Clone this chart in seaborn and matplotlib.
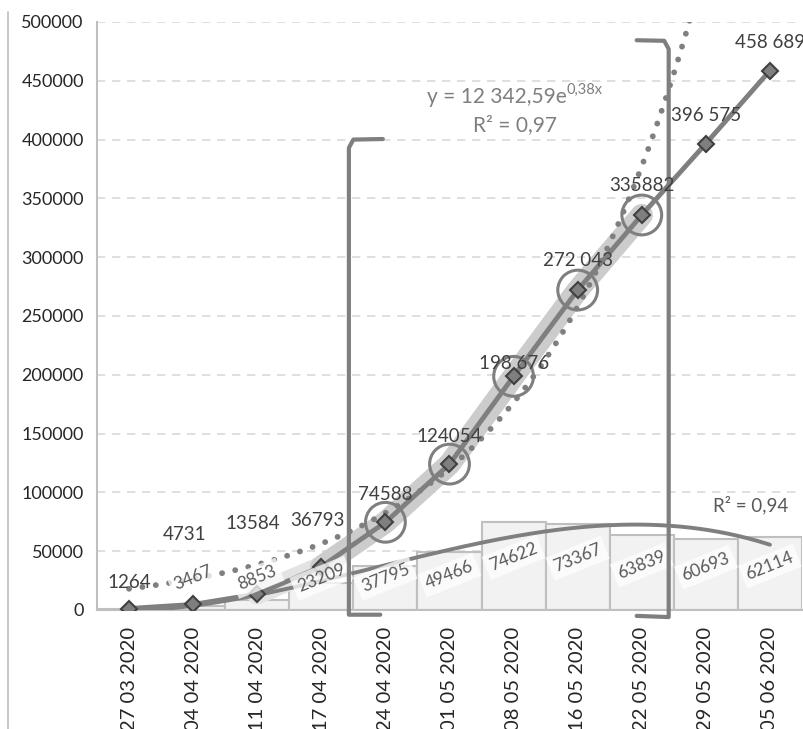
import numpy as np
import pandas as pd
import seaborn as sns
import matplotlib.pyplot as plt

fechas = ['27 03 2020', '04 04 2020', '11 04 2020', '17 04 2020', '24 04 2020',
          '01 05 2020', '08 05 2020', '16 05 2020', '22 05 2020', '29 05 2020',
          '05 06 2020']
casos_acumulados = [1264, 4731, 13584, 36793, 74588, 124054, 198676, 272043,
                    335882, 396575, 458689]
etiquetas_acumulados = ['1264', '4731', '13584', '36793', '74588', '124054',
                        '198 676', '272 043', '335882', '396 575', '458 689']
casos_nuevos = [1264, 3467, 8853, 23209, 37795, 49466, 74622, 73367, 63839,
                60693, 62114]
# coeficientes de la tendencia exponencial
coef_a = 12342.59
coef_b = 0.38
texto_ecuacion = 'y = 12 342,59e'
texto_exponente = '0,38x'
texto_r2_exp = 'R² = 0,97'
texto_r2_pol = 'R² = 0,94'
resaltados = [4, 5, 6, 7, 8]

sns.set_style('white')
plt.rcParams['font.family'] = ['Lato', 'DejaVu Sans']

gris = '#7f7f7f'
texto = '#404040'

df = pd.DataFrame({'fecha': fechas, 'acum': casos_acumulados,
                   'nuevos': casos_nuevos})
df['pos'] = np.arange(len(df))

fig = plt.figure(figsize=(8.04, 7.29), dpi=100)
ax = fig.add_axes([97 / 804, 1 - 610 / 729, 705 / 804, 588 / 729])

# barras de casos nuevos
sns.barplot(data=df, x='pos', y='nuevos', color='#f2f2f2', edgecolor='#bfbfbf',
            linewidth=1.5, width=1.0, saturation=1, ax=ax, zorder=2)

# tendencia polinomica de las barras
xs = np.arange(1, len(df) + 1)
p = np.polyfit(xs, df['nuevos'], 3)
xf = np.linspace(1, len(df), 200)
ax.plot(xf - 1, np.polyval(p, xf), color=gris, lw=2.8, zorder=4)

# tendencia exponencial
xe = np.linspace(1, len(df), 300)
ax.plot(xe - 1, coef_a * np.exp(coef_b * xe), color=gris, lw=4.2,
        linestyle=(0, (0.01, 2.3)), dash_capstyle='round', zorder=5)

# banda de resalte
ax.plot(df['pos'][2:4], df['acum'][2:4], color='#e3e3e3', lw=15,
        solid_capstyle='round', zorder=3)
ax.plot(df['pos'][3:9], df['acum'][3:9], color='#cccccc', lw=16,
        solid_capstyle='round', zorder=3)

# linea de casos acumulados
sns.lineplot(data=df, x='pos', y='acum', color=gris, lw=3.5, marker='D',
             markersize=8, markerfacecolor=gris, markeredgecolor='#404040',
             markeredgewidth=1.5, ax=ax, zorder=6)

# circulos de resalte
sub = df.iloc[resaltados]
ax.scatter(sub['pos'], sub['acum'], s=820, facecolors='none', edgecolors=gris,
           linewidths=2.2, zorder=7)

# etiquetas de la linea
dy = [19, 50, 51, 33, 20, 20, 9, 21, 21, 20, 20]
dx = [0, -6, -3, -3, 0, 0, 0, 0, 0, 0, 0]
for i, lab in enumerate(etiquetas_acumulados):
    ax.annotate(lab, (i, casos_acumulados[i]), xytext=(dx[i], dy[i]),
                textcoords='offset points', ha='center', va='center',
                fontsize=13.5, color=texto, zorder=9)

# etiquetas de las barras
for i, v in enumerate(casos_nuevos[1:], start=1):
    ax.text(i, max(0.6 * v, 27000), str(v), rotation=22, ha='center',
            va='center', fontsize=12.5, color='#595959', zorder=8,
            bbox=dict(boxstyle='square,pad=0.25', fc='white', ec='none',
                      alpha=0.75))

# corchetes
ax.plot([3.96, 3.5, 3.43, 3.43, 3.92], [400500, 400000, 393000, -4000, -4000],
        color=gris, lw=3, clip_on=False, zorder=8)
ax.plot([7.92, 8.35, 8.42, 8.42, 7.92], [484500, 484000, 477000, -6000, -5000],
        color=gris, lw=3, clip_on=False, zorder=8)

# textos de tendencia
ax.text(6.83, 436000, texto_ecuacion, ha='right', va='center', fontsize=15,
        color=gris)
ax.annotate(texto_exponente, (6.83, 436000), xytext=(0, 5),
            textcoords='offset points', ha='left', va='center', fontsize=10.5,
            color=gris)
ax.text(6.02, 412000, texto_r2_exp, ha='center', va='center', fontsize=15,
        color=gris)
ax.text(9.7, 89000, texto_r2_pol, ha='center', va='center', fontsize=13.5,
        color='#595959')

# ejes
ax.set_xlim(-0.5, len(df) - 0.5)
ax.set_ylim(0, 500000)
ax.set_yticks(np.arange(0, 500001, 50000))
ax.set_yticklabels([str(t) for t in range(0, 500001, 50000)])
ax.set_xticks(df['pos'])
ax.set_xticklabels(fechas, rotation=90)
ax.set_xticks(np.arange(-0.5, len(df), 1), minor=True)
ax.tick_params(axis='x', which='major', length=0, labelsize=14.5,
               labelcolor='#262626', pad=12)
ax.tick_params(axis='x', which='minor', length=6, color='#bfbfbf', width=1.5)
ax.tick_params(axis='y', length=6, color='#bfbfbf', width=1.5, labelsize=13,
               labelcolor='#262626')
ax.grid(axis='y', color='#d9d9d9', linestyle=(0, (5, 4)), lw=1.2, zorder=0)
ax.set_axisbelow(True)
ax.set_xlabel('')
ax.set_ylabel('')
for s in ['top', 'right']:
    ax.spines[s].set_visible(False)
for s in ['left', 'bottom']:
    ax.spines[s].set_color('#bfbfbf')
    ax.spines[s].set_linewidth(1.5)

# borde izquierdo del area del grafico
fig.add_artist(plt.Line2D([8 / 804, 8 / 804], [0, 1 - 12 / 729],
                          color='#bfbfbf', lw=1.2))

fig.savefig('out.png', dpi=100)
